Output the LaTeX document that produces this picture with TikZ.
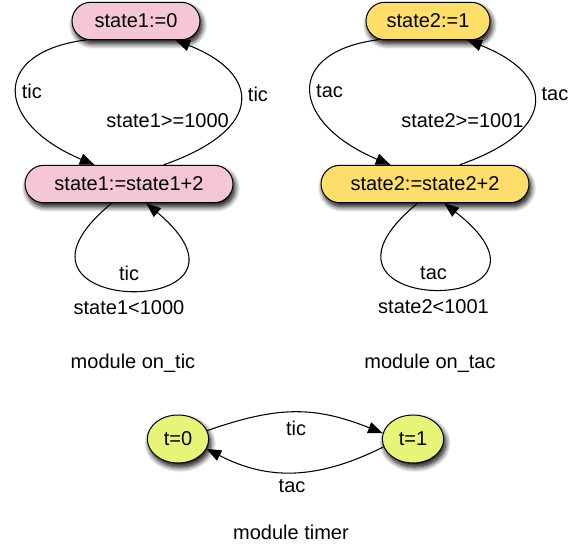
\documentclass[tikz,border=0pt]{standalone}
\usepackage{fontspec}
\setmainfont{Liberation Sans}
\usetikzlibrary{arrows.meta,shapes.misc,shapes.geometric,shadows.blur}
\definecolor{ticpink}{RGB}{245,198,214}
\definecolor{tacyellow}{RGB}{255,222,106}
\definecolor{timergreen}{RGB}{230,245,120}

\begin{document}
\begin{tikzpicture}[x=0.75pt,y=0.75pt,yscale=-1,xscale=1,
	font=\fontsize{15}{18}\selectfont,
	softshadow/.style={blur shadow={shadow xshift=1.5pt,shadow yshift=-3pt,shadow blur radius=4pt,shadow blur steps=10,shadow opacity=100}},
	statebox/.style={rounded rectangle,draw,line width=0.75pt,minimum height=28pt,inner sep=2pt,softshadow},
	timerstate/.style={ellipse,draw,line width=0.75pt,fill=timergreen,minimum width=46pt,minimum height=36pt,inner sep=0pt,softshadow},
	trans/.style={line width=0.8pt,-{Triangle[length=11pt,width=8.5pt]}}
	]
		\useasboundingbox (0,0) rectangle (584,546);
		\node [statebox,fill=ticpink,minimum width=100pt] (ticinit) at (136,21) {state1:=0};
		\node [statebox,fill=ticpink,minimum width=160pt] (ticstep) at (129,184) {state1:=state1+2};
		\node [statebox,fill=tacyellow,minimum width=97pt] (tacinit) at (428,21) {state2:=1};
		\node [statebox,fill=tacyellow,minimum width=160pt] (tacstep) at (425,184) {state2:=state2+2};
		\node [timerstate] (tzero) at (178,439) {t=0};
		\node [timerstate] (tone) at (413,439) {t=1};
		\draw [trans] (ticinit.201) .. controls +(-97,12) and +(-100,-42) .. (ticstep.151) node [pos=0.5,anchor=west] {tic};
		\draw [trans] (ticstep.29) .. controls +(103,-36) and +(85,33) .. (ticinit.334) node [pos=0.55,anchor=west,inner sep=6pt] {tic} node [pos=0.36,anchor=east] {state1>=1000};
		\draw [trans] (ticstep.228) .. controls +(-140,115) and +(140,118) .. (ticstep.312) node [pos=0.5,anchor=south,inner sep=7pt] {tic} node [pos=0.5,anchor=north,inner sep=7pt] {state1<1000};
		\draw [trans] (tacinit.201) .. controls +(-97,12) and +(-100,-42) .. (tacstep.151) node [pos=0.5,anchor=west] {tac};
		\draw [trans] (tacstep.29) .. controls +(103,-36) and +(85,33) .. (tacinit.334) node [pos=0.55,anchor=west,inner sep=6pt] {tac} node [pos=0.36,anchor=east] {state2>=1001};
		\draw [trans] (tacstep.249) .. controls +(-140,115) and +(147,115) .. (tacstep.315) node [pos=0.5,anchor=south,inner sep=7pt] {tac} node [pos=0.5,anchor=north,inner sep=7pt] {state2<1001};
		\draw [trans] (tzero.16) .. controls +(71,-25) and +(-68,-27) .. (tone.169) node [pos=0.5,anchor=north,inner sep=6pt] {tic};
		\draw [trans] (tone.195) .. controls +(-68,34) and +(60,31) .. (tzero.341) node [pos=0.5,anchor=north,inner sep=5pt] {tac};
		\node (tictitle) at (133,363) {module on\_tic};
		\node (tactitle) at (430,363) {module on\_tac};
		\node (timertitle) at (291,532) {module timer};
\end{tikzpicture}
\end{document}
